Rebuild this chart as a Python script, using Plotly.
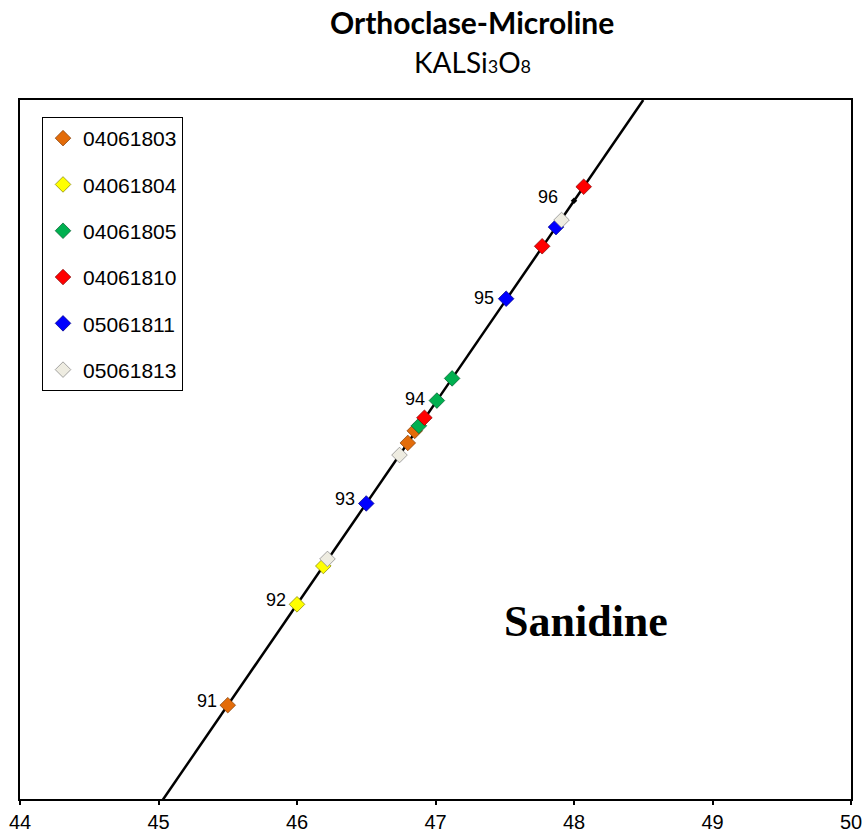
import plotly.graph_objects as go

# ---- data ----
series_names = ["04061803", "04061804", "04061805", "04061810", "05061811", "05061813"]
series_colors = ["#E36C0A", "#FFFF00", "#00B050", "#FF0000", "#0000FF", "#EEECE1"]
series_outline = ["#7F3B05", "#7F7F00", "#005A2B", "#7F0000", "#00007F", "#7F7F7F"]

s_04061803_x = [45.50, 46.80, 46.85]
s_04061803_y = [91.00, 93.60, 93.72]
s_04061804_x = [46.00, 46.19]
s_04061804_y = [92.00, 92.38]
s_04061805_x = [46.88, 47.01, 47.12]
s_04061805_y = [93.77, 94.02, 94.24]
s_04061810_x = [46.92, 47.77, 48.07]
s_04061810_y = [93.85, 95.55, 96.14]
s_05061811_x = [46.50, 47.51, 47.87]
s_05061811_y = [93.00, 95.03, 95.74]
s_05061813_x = [46.22, 46.74, 47.91]
s_05061813_y = [92.45, 93.48, 95.81]

series_x = [s_04061803_x, s_04061804_x, s_04061805_x, s_04061810_x, s_05061811_x, s_05061813_x]
series_y = [s_04061803_y, s_04061804_y, s_04061805_y, s_04061810_y, s_05061811_y, s_05061813_y]

# reference line (orthoclase-microline trend)
line_x = [45.0, 48.5]
line_y = [90.0, 97.0]

# composition tick labels along the line
label_x = [45.5, 46.0, 46.5, 47.0, 47.5, 48.0]
label_y = [91.0, 92.0, 93.0, 94.0, 95.0, 96.0]
label_text = ["91", "92", "93", "94", "95", "96"]

x_ticks = [44, 45, 46, 47, 48, 49, 50]

fig = go.Figure()

fig.add_trace(go.Scatter(x=line_x, y=line_y, mode="lines",
                         line=dict(color="black", width=2.5),
                         showlegend=False, hoverinfo="skip"))
fig.add_trace(go.Scatter(x=[label_x[-1]], y=[label_y[-1]], mode="markers",
                         marker=dict(symbol="diamond", size=5, color="black"),
                         showlegend=False, hoverinfo="skip"))

for name, col, oc, xs, ys in zip(series_names, series_colors, series_outline, series_x, series_y):
    fig.add_trace(go.Scatter(x=xs, y=ys, mode="markers", name=name, legendgroup=name,
                             marker=dict(symbol="diamond", size=12, color=col,
                                         line=dict(color=oc, width=0.7))))

for i, (lx, ly, lt) in enumerate(zip(label_x, label_y, label_text)):
    fig.add_annotation(x=lx, y=ly, text=lt, showarrow=False, xanchor="right",
                       xshift=-9 if i < 5 else -14, yshift=4,
                       font=dict(family="Liberation Sans, Arial", size=18, color="black"))

fig.add_annotation(x=48.09, y=91.83, text="<b>Sanidine</b>", showarrow=False,
                   font=dict(family="Liberation Serif, Times New Roman", size=44, color="black"))

fig.add_annotation(xref="paper", yref="paper", x=0.544, y=1.0, yshift=78, text="<b>Orthoclase-Microline</b>",
                   showarrow=False, yanchor="middle",
                   font=dict(family="Lato, Open Sans", size=30, color="black"))
fig.add_annotation(xref="paper", yref="paper", x=0.544, y=1.0, yshift=38,
                   text="KALSi<span style='font-size:18px'>3</span>O<span style='font-size:18px'>8</span>",
                   showarrow=False, yanchor="middle",
                   font=dict(family="Lato, Open Sans", size=28, color="black"))

fig.update_layout(
    width=865, height=834,
    margin=dict(l=20, r=14, t=100, b=35),
    paper_bgcolor="white", plot_bgcolor="white",
    xaxis=dict(range=[44, 50], tickvals=x_ticks, ticktext=[str(t) for t in x_ticks],
               showgrid=False, zeroline=False, showline=True, mirror=True, automargin=False,
               linecolor="black", linewidth=2, ticks="outside", ticklen=4, tickwidth=2,
               tickcolor="black",
               tickfont=dict(family="Liberation Sans Narrow, Arial Narrow, Liberation Sans", size=20, color="black")),
    yaxis=dict(range=[90.07, 97.0], showticklabels=False, showgrid=False, zeroline=False, automargin=False,
               showline=True, mirror=True, linecolor="black", linewidth=2, ticks=""),
    legend=dict(x=0.0265, y=0.9757, xanchor="left", yanchor="top",
                bordercolor="black", borderwidth=1, bgcolor="white",
                font=dict(family="Liberation Sans, Arial", size=21, color="black"),
                tracegroupgap=16, itemwidth=30, valign="bottom"),
    showlegend=True,
)

fig.write_html("out.html")
